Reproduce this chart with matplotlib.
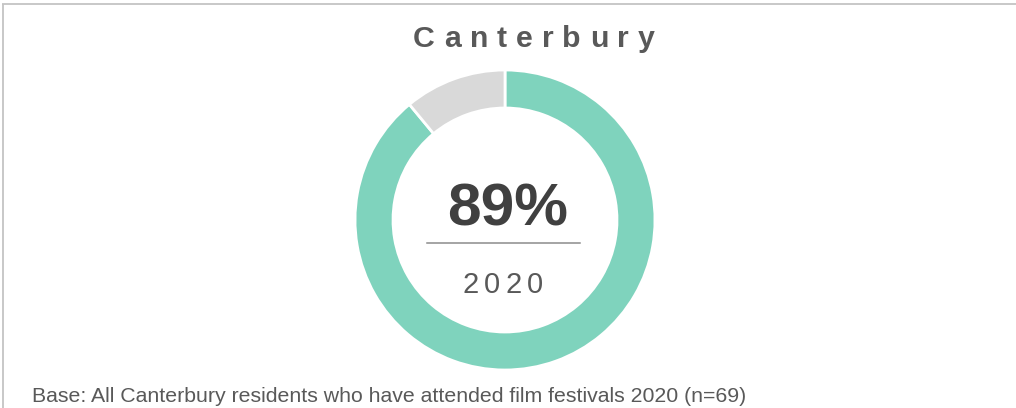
import matplotlib.pyplot as plt

W, H = 1016, 408

region = "Canterbury"
year = "2020"
labels = ["Attended", "Not attended"]
shares = [89, 11]
colors = ["#7fd3bd", "#d9d9d9"]
base_note = "Base: All Canterbury residents who have attended film festivals 2020 (n=69)"

plt.rcParams["font.family"] = ["Liberation Sans", "DejaVu Sans"]

fig = plt.figure(figsize=(W / 100, H / 100), dpi=100)
ax = fig.add_axes([0, 0, 1, 1])
ax.set_xlim(0, W)
ax.set_ylim(0, H)
ax.axis("off")
renderer = fig.canvas.get_renderer()


def py(y):
    # pixel rows counted from the top
    return H - y


def spaced_text(x_center, y_base, s, spacing, **kw):
    """Draw a string with extra tracking between letters, centred on x_center."""
    probe = ax.text(0, 0, s, **kw)
    full = probe.get_window_extent(renderer).width
    probe.remove()
    total = full + spacing * (len(s) - 1)
    x0 = x_center - total / 2
    for i, ch in enumerate(s):
        if i:
            t = ax.text(0, 0, s[:i], **kw)
            off = t.get_window_extent(renderer).width
            t.remove()
        else:
            off = 0
        ax.text(x0 + off + i * spacing, y_base, ch, ha="left", va="baseline", **kw)


# frame lines on top and left
ax.plot([2, W], [py(4), py(4)], color="#c4c4c4", lw=1.3, solid_capstyle="butt")
ax.plot([2.5, 2.5], [py(4), 0], color="#c4c4c4", lw=1.3, solid_capstyle="butt")

# title
spaced_text(534, py(47), region, 9.0, fontsize=21.8, fontweight="bold", color="#595959")

# donut
ax.pie(shares, colors=colors, center=(505, py(220)), radius=150,
       startangle=90, counterclock=False,
       wedgeprops=dict(width=38, edgecolor="white", linewidth=2))
ax.set_xlim(0, W)
ax.set_ylim(0, H)
ax.set_aspect("auto")

# centre labels
ax.text(508, py(225), f"{shares[0]}%", ha="center", va="baseline",
        fontsize=43.5, fontweight="bold", color="#404040")
ax.plot([427, 580], [py(243), py(243)], color="#8c8c8c", lw=1.1)
spaced_text(502.5, py(293), year, 5.3, fontsize=21, color="#595959")

# footnote
ax.text(32, py(402), base_note, ha="left", va="baseline", fontsize=15.35, color="#595959")

fig.savefig("out.png", dpi=100)
